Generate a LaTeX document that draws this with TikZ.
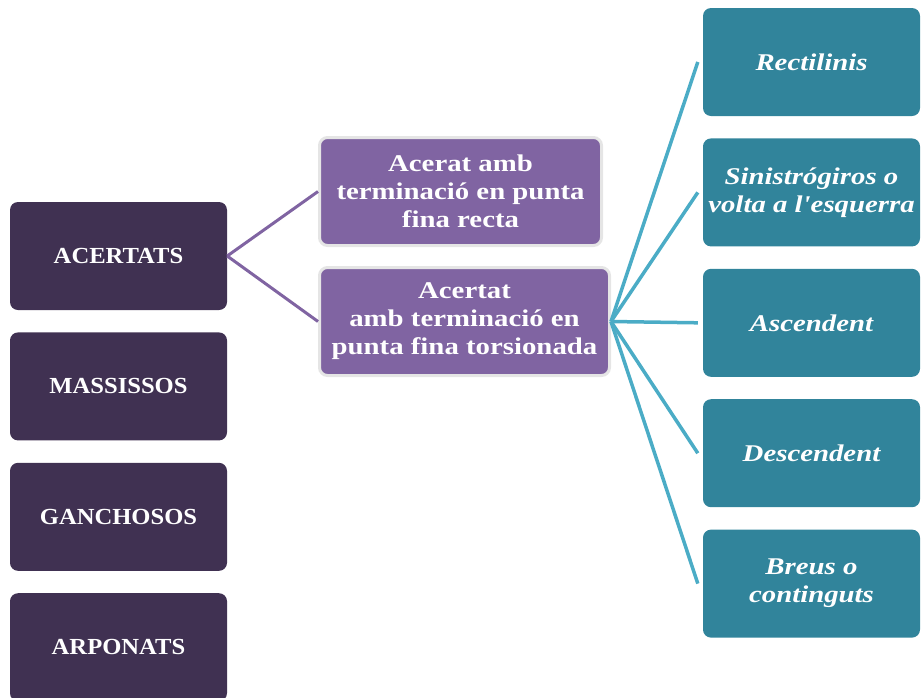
\documentclass[tikz,border=0pt]{standalone}
\usepackage{fontspec}
\setmainfont{Liberation Serif}[Ligatures=TeXOff]
\newfontfamily\capsfont{Liberation Serif}[Ligatures=TeXOff,FakeStretch=1.07]
\newfontfamily\widefont{Liberation Serif}[Ligatures=TeXOff,FakeStretch=1.2]
\usetikzlibrary{positioning}

\definecolor{darkplum}{HTML}{403152}
\definecolor{midplum}{HTML}{8064A2}
\definecolor{teal box}{HTML}{31849B}
\definecolor{teal line}{HTML}{4BACC6}

\begin{document}
\begin{tikzpicture}[x=1pt,y=-1pt,node distance=22pt,
	box/.style={rounded corners=8pt,text=white,align=center,inner sep=2pt,font=\widefont\bfseries\fontsize{24}{28}\selectfont},
	class node/.style={box,fill=darkplum,minimum width=217pt,minimum height=108pt,font=\capsfont\bfseries\fontsize{23}{28}\selectfont},
	kind node/.style={box,fill=midplum,draw=black!10,line width=3pt,minimum height=108pt},
	twist node/.style={box,fill=teal box,minimum width=217pt,minimum height=108pt,font=\widefont\bfseries\itshape\fontsize{24}{28}\selectfont}]
	
	\useasboundingbox (0,0) rectangle (923,697);
	
	\node[class node] (acertats) at (118.5,256) {ACERTATS};
	\node[class node] (massissos) [below=of acertats] {MASSISSOS};
	\node[class node] (ganchosos) [below=of massissos] {GANCHOSOS};
	\node[class node] (arponats) [below=of ganchosos] {ARPONATS};
	
	\node[kind node, minimum width=282pt] (recta) at (460.5,191.5) {Acerat amb\\terminació en punta\\fina recta};
	\node[kind node, minimum width=290pt] (torsio) at (464.5,321.5) {Acertat\\amb terminació en\\punta fina torsionada};
	
	\node[twist node] (rectilinis) at (811.5,62) {Rectilinis};
	\node[twist node] (sinistro) [below=of rectilinis] {Sinistrógiros o\\volta a l'esquerra};
	\node[twist node] (ascendent) [below=of sinistro] {Ascendent};
	\node[twist node] (descendent) [below=of ascendent] {Descendent};
	\node[twist node] (breus) [below=of descendent] {Breus o\\continguts};
	
	\path[draw=midplum,line width=3pt]
	(acertats.east) edge (recta.west)
	edge (torsio.west);
	
	\path[draw=teal line,line width=3.5pt]
	(torsio.east) edge ([xshift=-5pt]rectilinis.west)
	edge ([xshift=-5pt]sinistro.west)
	edge ([xshift=-5pt]ascendent.west)
	edge ([xshift=-5pt]descendent.west)
	edge ([xshift=-5pt]breus.west);
	
\end{tikzpicture}
\end{document}
